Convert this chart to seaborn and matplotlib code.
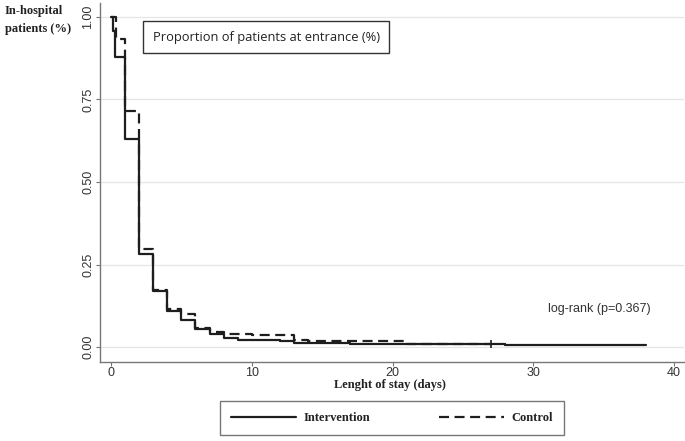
import matplotlib
matplotlib.use("Agg")
import matplotlib.pyplot as plt
import seaborn as sns
import pandas as pd
from matplotlib.lines import Line2D

# Data
interv_days = [0, 0.12, 0.25, 1, 2, 3, 4, 5, 6, 7, 8, 9, 12, 13, 17, 21, 28, 38]
interv_surv = [1.0, 0.958, 0.88, 0.631, 0.281, 0.170, 0.109, 0.082, 0.054, 0.040, 0.028, 0.023, 0.018, 0.013, 0.011, 0.008, 0.005, 0.005]
control_days = [0, 0.35, 1, 2, 3, 4, 5, 6, 7, 8, 10, 13, 14, 17, 21, 27]
control_surv = [1.0, 0.934, 0.714, 0.296, 0.172, 0.116, 0.099, 0.059, 0.046, 0.040, 0.036, 0.022, 0.019, 0.018, 0.008, 0.008]
censor_days = [27]
censor_surv = [0.008]
x_ticks = [0, 10, 20, 30, 40]
y_ticks = [0.0, 0.25, 0.50, 0.75, 1.00]
y_tick_labels = ["0.00", "0.25", "0.50", "0.75", "1.00"]

sns.set_theme(style="white")
plt.rcParams['font.family'] = ['Liberation Sans', 'DejaVu Sans']

fig = plt.figure(figsize=(6.85, 4.41), dpi=100)
ax = fig.add_axes([100/685, 1-362/441, 584/685, 359/441])

line_col = "#1e1e1e"
df_i = pd.DataFrame({"day": interv_days, "surv": interv_surv})
df_c = pd.DataFrame({"day": control_days, "surv": control_surv})
sns.lineplot(data=df_c, x="day", y="surv", ax=ax, drawstyle="steps-post",
             color=line_col, linewidth=1.6, linestyle=(0, (4.5, 2.5)), estimator=None, sort=False)
sns.lineplot(data=df_i, x="day", y="surv", ax=ax, drawstyle="steps-post",
             color=line_col, linewidth=1.6, estimator=None, sort=False)
sns.scatterplot(x=censor_days, y=censor_surv, ax=ax, marker="|", s=30, color=line_col, linewidth=1.2)

ax.set_xlim(-0.78, 40.7)
ax.set_ylim(-0.045, 1.042)
ax.set_xticks(x_ticks)
ax.set_yticks(y_ticks)
ax.set_yticklabels(y_tick_labels, rotation=90, va="center")
ax.tick_params(axis="both", which="both", length=3, width=0.8, color="#777777",
               labelsize=9, labelcolor="#333333", direction="out", bottom=True, left=True)
ax.tick_params(axis="y", pad=1)
ax.tick_params(axis="x", pad=0.5)
for s in ["top", "right"]:
    ax.spines[s].set_visible(False)
for s in ["left", "bottom"]:
    ax.spines[s].set_color("#777777")
    ax.spines[s].set_linewidth(1.0)
ax.yaxis.grid(True, color="#e6e6e6", linewidth=0.9)
ax.xaxis.grid(False)
ax.set_xlabel("")
ax.set_ylabel("")

serif = ['Liberation Serif', 'DejaVu Serif']
fig.text(5/685, 1-20/441, "In-hospital\npatients (%)", family=serif, fontweight="bold",
         fontsize=9, ha="left", va="center", color="#222222", linespacing=1.6)
fig.text(390/685, 1-385/441, "Lenght of stay (days)", family=serif, fontweight="bold",
         fontsize=9, ha="center", va="center", color="#222222")

ax.text(2.95, 0.939, "Proportion of patients at entrance (%)", family=['Open Sans', 'DejaVu Sans'],
        fontsize=9.3, ha="left", va="center", color="#222222",
        bbox=dict(boxstyle="square,pad=0.75", facecolor="white", edgecolor="#333333", linewidth=1.0))
ax.text(34.7, 0.115, "log-rank (p=0.367)", fontsize=9, ha="center", va="center", color="#333333")

handles = [Line2D([], [], color=line_col, lw=1.6),
           Line2D([], [], color=line_col, lw=1.6, linestyle=(0, (4.5, 2.5)))]
leg = fig.legend(handles, ["Intervention", "Control"], loc="center",
                 bbox_to_anchor=(392/685, 1-418/441), ncol=2, frameon=True, fancybox=False,
                 prop=dict(family=serif, weight="bold", size=9), handlelength=5.2,
                 columnspacing=5.5, borderpad=0.9, handletextpad=0.6)
leg.get_frame().set_edgecolor("#555555")
leg.get_frame().set_linewidth(1.0)
for t in leg.get_texts():
    t.set_color("#222222")

fig.savefig("out.png", dpi=100)
